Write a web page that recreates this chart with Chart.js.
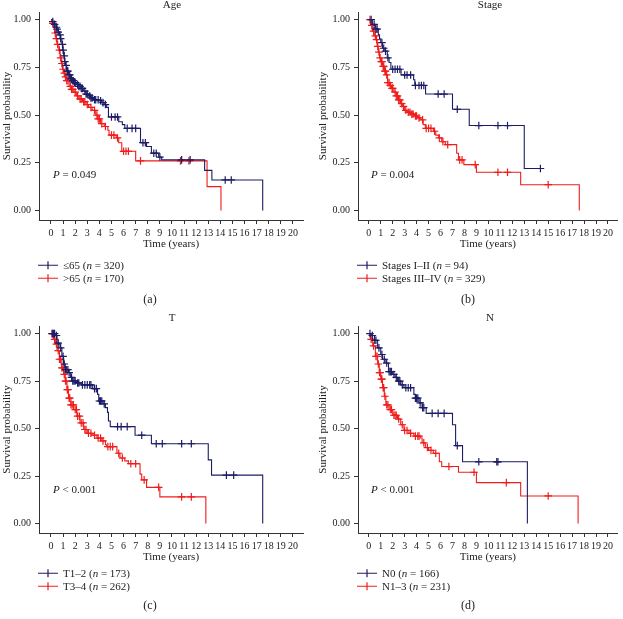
<!DOCTYPE html>
<html lang="en">
<head>
<meta charset="UTF-8">
<title>Survival curves</title>
<style>
  * { margin: 0; padding: 0; }
  body { background: #fff; font-family: 'Liberation Serif', 'DejaVu Serif', serif; color: #222; }
  #wrap { position: relative; width: 623px; height: 619px; overflow: hidden; }
  .box { position: absolute; }
  .txt { position: absolute; font-size: 11px; white-space: nowrap; line-height: 1; }
  .mid { transform: translate(-50%, -50%); }
  .lft { transform: translate(0, -50%); }
</style>
</head>
<body>
<div id="wrap"></div>
<script src="https://cdn.jsdelivr.net/npm/chart.js@4.4.1/dist/chart.umd.min.js"></script>
<script>
  const xTicks = [0, 1, 2, 3, 4, 5, 6, 7, 8, 9, 10, 11, 12, 13, 14, 15, 16, 17, 18, 19, 20];
  const yTicks = [0, 0.25, 0.5, 0.75, 1];
  const blue = '#1c1c66';
  const red = '#f01c1c';

  // (a) Age
  const ageLowTime = [0, 0.1, 0.25, 0.4, 0.5, 0.6, 0.7, 0.8, 0.9, 0.98, 1.05, 1.12, 1.2, 1.3, 1.45, 1.6, 1.75, 1.9, 2.1, 2.3, 2.5, 2.7, 2.9, 3.1, 3.3, 3.5, 4.0, 4.2, 4.4, 4.6, 4.75, 5.6, 5.9, 6.1, 7.4, 7.9, 8.3, 8.9, 9.15, 12.7, 13.3, 17.5];
  const ageLowSurv = [1, 0.99, 0.975, 0.96, 0.95, 0.935, 0.92, 0.9, 0.87, 0.84, 0.81, 0.78, 0.76, 0.73, 0.71, 0.69, 0.68, 0.67, 0.66, 0.65, 0.64, 0.625, 0.61, 0.6, 0.59, 0.58, 0.575, 0.565, 0.555, 0.54, 0.49, 0.465, 0.45, 0.43, 0.355, 0.335, 0.3, 0.28, 0.265, 0.21, 0.16, 0];
  const ageLowCens = [0.15, 0.3, 0.45, 0.5, 0.6, 0.75, 0.8, 0.95, 1.0, 1.1, 1.15, 1.25, 1.35, 1.4, 1.5, 1.55, 1.65, 1.7, 1.8, 1.85, 1.95, 2.0, 2.2, 2.3, 2.4, 2.5, 2.6, 2.8, 2.9, 3.0, 3.2, 3.3, 3.4, 3.6, 3.7, 3.9, 4.1, 4.3, 4.5, 5.0, 5.3, 5.5, 6.3, 6.7, 7.0, 7.6, 7.8, 8.5, 8.7, 9.0, 10.8, 11.5, 14.4, 14.9];
  const ageHighTime = [0, 0.1, 0.2, 0.3, 0.4, 0.5, 0.65, 0.75, 0.85, 0.95, 1.05, 1.15, 1.3, 1.5, 1.7, 1.9, 2.1, 2.3, 2.6, 2.9, 3.1, 3.4, 3.7, 3.85, 4.1, 4.4, 4.7, 4.8, 5.4, 5.6, 5.85, 7.0, 12.9, 14.05];
  const ageHighSurv = [1, 0.98, 0.96, 0.93, 0.9, 0.87, 0.84, 0.8, 0.77, 0.74, 0.72, 0.7, 0.68, 0.65, 0.635, 0.62, 0.6, 0.585, 0.57, 0.555, 0.54, 0.525, 0.5, 0.48, 0.455, 0.44, 0.42, 0.395, 0.38, 0.355, 0.31, 0.26, 0.125, 0];
  const ageHighCens = [0.15, 0.35, 0.45, 0.55, 0.7, 0.8, 0.9, 1.0, 1.1, 1.2, 1.3, 1.4, 1.6, 1.7, 1.8, 2.0, 2.2, 2.4, 2.5, 2.7, 2.8, 3.0, 3.3, 3.6, 3.8, 3.9, 4.0, 4.2, 4.5, 5.0, 5.2, 5.5, 6.0, 6.2, 6.4, 7.4, 10.7, 11.4];

  // (b) Stage
  const stageLowTime = [0, 0.3, 0.55, 0.8, 0.9, 1.0, 1.15, 1.35, 1.55, 1.7, 1.85, 2.7, 3.75, 3.85, 4.75, 7.0, 8.4, 13.0, 14.35];
  const stageLowSurv = [1, 0.975, 0.95, 0.92, 0.9, 0.88, 0.85, 0.835, 0.8, 0.775, 0.74, 0.71, 0.685, 0.655, 0.61, 0.53, 0.445, 0.22, 0.22];
  const stageLowCens = [0.2, 0.45, 0.6, 0.7, 1.1, 1.25, 1.4, 1.6, 2.0, 2.2, 2.4, 2.6, 3.0, 3.2, 3.5, 3.9, 4.2, 4.4, 4.6, 5.8, 6.3, 7.4, 9.2, 10.8, 11.6, 14.35];
  const stageHighTime = [0, 0.15, 0.3, 0.45, 0.6, 0.7, 0.8, 0.9, 1.0, 1.15, 1.3, 1.45, 1.57, 1.75, 1.9, 2.1, 2.3, 2.5, 2.65, 2.8, 3.0, 3.2, 3.5, 3.8, 4.1, 4.35, 4.55, 4.73, 5.4, 5.6, 5.85, 6.1, 6.4, 7.35, 7.5, 7.95, 9.0, 12.7, 17.6];
  const stageHighSurv = [1, 0.97, 0.94, 0.915, 0.895, 0.86, 0.83, 0.8, 0.78, 0.755, 0.73, 0.71, 0.67, 0.655, 0.64, 0.62, 0.6, 0.58, 0.56, 0.545, 0.525, 0.515, 0.505, 0.495, 0.485, 0.475, 0.45, 0.43, 0.415, 0.395, 0.38, 0.36, 0.345, 0.3, 0.265, 0.24, 0.2, 0.135, 0];
  const stageHighCens = [0.1, 0.25, 0.4, 0.55, 0.65, 0.75, 0.85, 0.95, 1.05, 1.1, 1.2, 1.25, 1.35, 1.4, 1.5, 1.6, 1.7, 1.8, 1.95, 2.0, 2.2, 2.3, 2.4, 2.5, 2.6, 2.75, 2.9, 3.1, 3.3, 3.45, 3.6, 3.7, 3.9, 4.0, 4.2, 4.5, 4.8, 5.0, 5.2, 5.5, 5.9, 6.2, 6.6, 7.6, 7.8, 8.9, 10.8, 11.6, 15.0];

  // (c) T
  const tLowTime = [0, 0.35, 0.5, 0.75, 0.9, 1.04, 1.18, 1.45, 1.6, 1.73, 2.1, 2.5, 3.45, 3.85, 3.95, 4.3, 4.5, 4.67, 4.75, 4.9, 6.95, 8.3, 13.0, 13.27, 17.5];
  const tLowSurv = [1, 0.99, 0.95, 0.925, 0.88, 0.84, 0.81, 0.795, 0.77, 0.75, 0.74, 0.73, 0.71, 0.68, 0.645, 0.63, 0.61, 0.585, 0.54, 0.51, 0.465, 0.42, 0.335, 0.255, 0];
  const tLowCens = [0.1, 0.2, 0.3, 0.45, 0.6, 0.8, 1.0, 1.1, 1.2, 1.3, 1.4, 1.5, 1.7, 1.8, 1.9, 2.0, 2.2, 2.3, 2.6, 2.8, 3.0, 3.2, 3.3, 3.6, 3.75, 4.0, 4.1, 4.2, 4.4, 5.5, 5.8, 6.3, 7.5, 8.7, 9.2, 10.8, 11.6, 14.5, 15.1];
  const tHighTime = [0, 0.2, 0.36, 0.5, 0.7, 0.9, 1.04, 1.18, 1.32, 1.45, 1.65, 1.87, 2.14, 2.4, 2.7, 3.0, 3.4, 3.8, 4.2, 4.5, 4.6, 5.45, 5.7, 6.1, 6.4, 7.36, 7.5, 7.9, 9.0, 12.8];
  const tHighSurv = [1, 0.97, 0.945, 0.91, 0.865, 0.82, 0.785, 0.75, 0.705, 0.66, 0.625, 0.6, 0.565, 0.53, 0.495, 0.475, 0.465, 0.45, 0.435, 0.415, 0.405, 0.37, 0.345, 0.33, 0.315, 0.26, 0.23, 0.19, 0.14, 0];
  const tHighCens = [0.1, 0.3, 0.45, 0.6, 0.7, 0.8, 0.9, 1.0, 1.1, 1.2, 1.25, 1.35, 1.4, 1.5, 1.55, 1.65, 1.75, 1.85, 2.0, 2.1, 2.2, 2.35, 2.5, 2.65, 2.8, 2.9, 3.1, 3.3, 3.6, 3.9, 4.1, 4.3, 4.7, 4.9, 5.1, 5.6, 5.9, 6.6, 7.0, 7.7, 8.9, 10.8, 11.6];

  // (d) N
  const nLowTime = [0, 0.2, 0.47, 0.74, 1.0, 1.15, 1.43, 1.65, 2.0, 2.2, 2.4, 2.67, 2.94, 3.77, 3.9, 4.2, 4.46, 4.8, 7.0, 7.26, 7.84, 13.26];
  const nLowSurv = [1, 0.99, 0.965, 0.925, 0.89, 0.865, 0.845, 0.8, 0.785, 0.77, 0.75, 0.73, 0.715, 0.68, 0.66, 0.635, 0.61, 0.58, 0.52, 0.41, 0.325, 0];
  const nLowCens = [0.1, 0.3, 0.5, 0.6, 0.85, 1.1, 1.3, 1.5, 1.7, 1.8, 1.9, 2.1, 2.3, 2.5, 2.6, 2.8, 3.1, 3.3, 3.5, 3.9, 4.0, 4.1, 4.3, 4.5, 4.6, 5.3, 5.8, 6.3, 7.4, 9.2, 10.7, 10.8];
  const nHighTime = [0, 0.14, 0.33, 0.55, 0.74, 0.88, 1.0, 1.15, 1.3, 1.43, 1.7, 2.0, 2.4, 2.67, 2.94, 3.36, 3.77, 4.3, 4.46, 4.73, 5.0, 5.4, 5.9, 6.1, 7.5, 9.0, 12.7, 17.5];
  const nHighSurv = [1, 0.97, 0.935, 0.88, 0.84, 0.795, 0.76, 0.715, 0.67, 0.625, 0.6, 0.57, 0.55, 0.52, 0.49, 0.475, 0.46, 0.45, 0.425, 0.4, 0.385, 0.37, 0.325, 0.3, 0.27, 0.215, 0.145, 0];
  const nHighCens = [0.2, 0.4, 0.6, 0.7, 0.8, 0.9, 0.95, 1.05, 1.1, 1.2, 1.25, 1.35, 1.5, 1.6, 1.8, 1.9, 2.1, 2.2, 2.3, 2.5, 2.8, 3.0, 3.2, 3.5, 3.9, 4.1, 4.2, 4.6, 4.9, 5.2, 5.6, 6.7, 8.8, 11.5, 15.0];

  const panelTitles = ['Age', 'Stage', 'T', 'N'];
  const pValues = ['P = 0.049', 'P = 0.004', 'P < 0.001', 'P < 0.001'];
  const groupNames = [['≤65', '>65'], ['Stages I–II', 'Stages III–IV'], ['T1–2', 'T3–4'], ['N0', 'N1–3']];
  const groupSizes = [[320, 170], [94, 329], [173, 262], [166, 231]];
  const captions = ['(a)', '(b)', '(c)', '(d)'];

  const wrap = document.getElementById('wrap');

  function survAt(times, surv, t) {
    let s = surv[0];
    for (let i = 0; i < times.length; i++) {
      if (times[i] <= t) s = surv[i];
    }
    return s;
  }

  function addText(html, x, y, cls, size) {
    const d = document.createElement('div');
    d.className = 'txt ' + cls;
    d.style.left = x + 'px';
    d.style.top = y + 'px';
    if (size) d.style.fontSize = size + 'px';
    d.innerHTML = html;
    wrap.appendChild(d);
  }

  function legendRow(color, label, x, y) {
    const svg = '<svg width="20" height="10" style="vertical-align:middle"><line x1="0" y1="5" x2="20" y2="5" stroke="' + color +
      '" stroke-width="1.2"/><line x1="10" y1="1" x2="10" y2="9" stroke="' + color + '" stroke-width="1.2"/></svg>';
    addText(svg, x, y, 'lft');
    addText(label, x + 25, y, 'lft');
  }

  function drawPanel(p) {
    const box = document.createElement('div');
    box.className = 'box';
    box.style.left = p.left + 'px';
    box.style.top = p.top + 'px';
    const cv = document.createElement('canvas');
    box.style.width = p.w + 'px';
    box.style.height = p.h + 'px';
    box.appendChild(cv);
    wrap.appendChild(box);

    const datasets = [];
    p.curves.forEach(c => {
      datasets.push({
        type: 'line',
        data: c.time.map((t, i) => ({ x: t, y: c.surv[i] })),
        borderColor: c.color,
        borderWidth: 1.1,
        pointRadius: 0,
        stepped: 'before',
        fill: false
      });
      datasets.push({
        type: 'scatter',
        data: c.cens.map(t => ({ x: t, y: survAt(c.time, c.surv, t) })),
        borderColor: c.color,
        backgroundColor: c.color,
        pointStyle: 'cross',
        pointRadius: 3.8,
        borderWidth: 1.2
      });
    });

    const fontTick = { family: 'Liberation Serif', size: 10 };
    const fontTitle = { family: 'Liberation Serif', size: 11 };
    new Chart(cv, {
      type: 'line',
      data: { datasets: datasets },
      options: {
        responsive: true,
        maintainAspectRatio: false,
        animation: false,
        layout: { padding: { top: p.padTop, right: p.padRight, left: p.padLeft, bottom: 0 } },
        plugins: { legend: { display: false }, tooltip: { enabled: false } },
        scales: {
          x: {
            type: 'linear',
            min: p.xMin,
            max: p.xMax,
            afterBuildTicks: s => { s.ticks = xTicks.map(v => ({ value: v })); },
            afterFit: s => { s.height = 31; },
            ticks: { color: '#222', font: fontTick, padding: 3, maxRotation: 0, autoSkip: false },
            grid: { drawOnChartArea: false, drawTicks: true, tickLength: 4, tickColor: '#333' },
            border: { display: true, color: '#333', width: 1 },
            title: { display: true, text: 'Time (years)', color: '#222', font: fontTitle, padding: { top: 0, bottom: 0 } }
          },
          y: {
            type: 'linear',
            min: -0.05,
            max: 1.04,
            afterBuildTicks: s => { s.ticks = yTicks.map(v => ({ value: v })); },
            afterFit: s => { s.width = p.yWidth; },
            ticks: { color: '#222', font: fontTick, padding: 4, callback: v => v.toFixed(2) },
            grid: { drawOnChartArea: false, drawTicks: true, tickLength: 4, tickColor: '#333' },
            border: { display: true, color: '#333', width: 1 },
            title: { display: true, text: 'Survival probability', color: '#222', font: fontTitle, padding: { top: 1, bottom: 0 } }
          }
        }
      }
    });
  }

  const panels = [
    { left: 0, top: 0, w: 310, h: 251, padTop: 12, padRight: 7, padLeft: 0, yWidth: 39, xMin: -0.99, xMax: 20.83,
      curves: [
        { time: ageLowTime, surv: ageLowSurv, cens: ageLowCens, color: blue },
        { time: ageHighTime, surv: ageHighSurv, cens: ageHighCens, color: red }] },
    { left: 310, top: 0, w: 313, h: 251, padTop: 12, padRight: 1, padLeft: 6, yWidth: 42, xMin: -0.9, xMax: 20.82,
      curves: [
        { time: stageLowTime, surv: stageLowSurv, cens: stageLowCens, color: blue },
        { time: stageHighTime, surv: stageHighSurv, cens: stageHighCens, color: red }] },
    { left: 0, top: 310, w: 310, h: 254, padTop: 16, padRight: 7, padLeft: 0, yWidth: 39, xMin: -0.99, xMax: 20.83,
      curves: [
        { time: tLowTime, surv: tLowSurv, cens: tLowCens, color: blue },
        { time: tHighTime, surv: tHighSurv, cens: tHighCens, color: red }] },
    { left: 310, top: 310, w: 313, h: 254, padTop: 16, padRight: 1, padLeft: 6, yWidth: 42, xMin: -0.9, xMax: 20.82,
      curves: [
        { time: nLowTime, surv: nLowSurv, cens: nLowCens, color: blue },
        { time: nHighTime, surv: nHighSurv, cens: nHighCens, color: red }] }
  ];

  // overlay text positions per panel: title, P value, legend, caption
  const titlePos = [[172, 4], [490, 4], [172, 317], [490, 317]];
  const pPos = [[53, 174], [371, 174], [53, 489], [371, 489]];
  const legendPos = [[38, 265], [357, 265], [38, 573], [357, 573]];
  const captionPos = [[150, 299], [468, 299], [150, 605], [468, 605]];

  panels.forEach((p, i) => {
    drawPanel(p);
    addText(panelTitles[i], titlePos[i][0], titlePos[i][1], 'mid');
    addText(pValues[i].replace('P', '<i>P</i>'), pPos[i][0], pPos[i][1], 'lft');
    legendRow(blue, groupNames[i][0] + ' (<i>n</i> = ' + groupSizes[i][0] + ')', legendPos[i][0], legendPos[i][1]);
    legendRow(red, groupNames[i][1] + ' (<i>n</i> = ' + groupSizes[i][1] + ')', legendPos[i][0], legendPos[i][1] + 13);
    addText(captions[i], captionPos[i][0], captionPos[i][1], 'mid', 12);
  });
</script>
</body>
</html>
